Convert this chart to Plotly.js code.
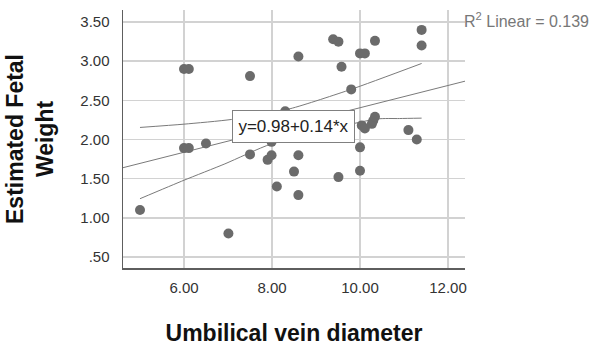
<!DOCTYPE html>
<html>
<head>
<meta charset="utf-8">
<script src="https://cdn.plot.ly/plotly-3.0.1.min.js"></script>
<style>html,body{margin:0;padding:0;background:#fff;}#chart{width:596px;height:352px;}</style>
</head>
<body>
<div id="chart"></div>
<script>
// Umbilical vein diameter (x) and Estimated Fetal Weight (y)
const uvd = [5.00, 6.00, 6.11, 6.00, 6.11, 6.50, 7.01, 7.50, 7.50, 7.90, 7.99, 7.99, 8.11, 8.30, 8.50, 8.60, 8.60, 8.60,
             9.39, 9.51, 9.51, 9.58, 9.80, 10.00, 10.11, 10.34, 11.40, 11.40, 10.04, 10.11, 10.27, 10.30, 10.34,
             11.10, 11.29, 10.00, 10.00];
const efw = [1.10, 2.90, 2.90, 1.89, 1.89, 1.95, 0.80, 2.81, 1.81, 1.74, 1.80, 1.97, 1.40, 2.36, 1.59, 1.80, 1.29, 3.06,
             3.28, 3.25, 1.52, 2.93, 2.64, 3.10, 3.10, 3.26, 3.40, 3.20, 2.18, 2.14, 2.20, 2.24, 2.29,
             2.12, 2.00, 1.90, 1.60];

// Fit line (read at the plot edges) and the 95% mean confidence curves
const fitX = [4.614, 12.386];
const fitY = [1.640, 2.745];
const ciUpperX = [5.00, 6.00, 7.08, 8.41, 9.80, 11.40];
const ciUpperY = [2.154, 2.196, 2.256, 2.393, 2.641, 2.971];
const ciLowerX = [5.00, 6.00, 6.93, 7.99, 10.38, 10.90, 11.40];
const ciLowerY = [1.244, 1.480, 1.689, 1.945, 2.262, 2.268, 2.273];

const xTickVals = [6, 8, 10, 12];
const xTickText = ["6.00", "8.00", "10.00", "12.00"];
const yTickVals = [0.5, 1.0, 1.5, 2.0, 2.5, 3.0, 3.5];
const yTickText = [".50", "1.00", "1.50", "2.00", "2.50", "3.00", "3.50"];

const fitLabel = "y=0.98+0.14*x";
const r2Label = "R<sup>2</sup> Linear = 0.139";

const FONT = "Liberation Sans, Arial, Helvetica, sans-serif";
const lineStyle = {color: "#7a7a7a", width: 1};

const traces = [
  {x: fitX, y: fitY, type: "scatter", mode: "lines", line: lineStyle, hoverinfo: "skip"},
  {x: ciUpperX, y: ciUpperY, type: "scatter", mode: "lines", line: Object.assign({shape: "spline", smoothing: 0.6}, lineStyle), hoverinfo: "skip"},
  {x: ciLowerX, y: ciLowerY, type: "scatter", mode: "lines", line: Object.assign({shape: "spline", smoothing: 0.6}, lineStyle), hoverinfo: "skip"},
  {x: uvd, y: efw, type: "scatter", mode: "markers",
   marker: {color: "#6b6b6b", size: 10, line: {width: 0}}}
];

const layout = {
  width: 596, height: 352,
  margin: {l: 123, r: 131, t: 10, b: 84},
  paper_bgcolor: "#ffffff", plot_bgcolor: "#ffffff",
  showlegend: false,
  font: {family: FONT, color: "#222"},
  xaxis: {
    range: [4.614, 12.386],
    tickvals: xTickVals, ticktext: xTickText,
    tickfont: {size: 15, color: "#333"},
    ticks: "", ticklabelstandoff: 5,
    showgrid: true, gridcolor: "#d2d2d2", gridwidth: 1.5,
    zeroline: false, showline: true, linecolor: "#5e5e5e", linewidth: 1.5,
    title: {text: "Umbilical vein diameter", font: {size: 23, color: "#111", family: FONT, weight: "bold"}, standoff: 30}
  },
  yaxis: {
    range: [0.359, 3.654],
    tickvals: yTickVals, ticktext: yTickText,
    tickfont: {size: 15, color: "#333"},
    ticks: "", ticklabelstandoff: 9,
    showgrid: true, gridcolor: "#d2d2d2", gridwidth: 1.5,
    zeroline: false, showline: true, linecolor: "#5e5e5e", linewidth: 1.5,
    title: {text: "Estimated Fetal<br>Weight", font: {size: 23, color: "#111", family: FONT, weight: "bold"}, standoff: 20}
  },
  annotations: [
    {x: 8.49, y: 2.16, xref: "x", yref: "y", text: fitLabel, showarrow: false,
     font: {size: 17, color: "#222", family: FONT}, bgcolor: "#ffffff",
     bordercolor: "#808080", borderwidth: 1, borderpad: 2, width: 117, height: 27,
     xanchor: "center", yanchor: "middle"},
    {x: 0.991, y: 3.52, xref: "paper", yref: "y", text: r2Label, showarrow: false,
     font: {size: 16, color: "#777", family: FONT}, xanchor: "left", yanchor: "middle"}
  ]
};

Plotly.newPlot("chart", traces, layout, {staticPlot: true, displayModeBar: false});
</script>
</body>
</html>
